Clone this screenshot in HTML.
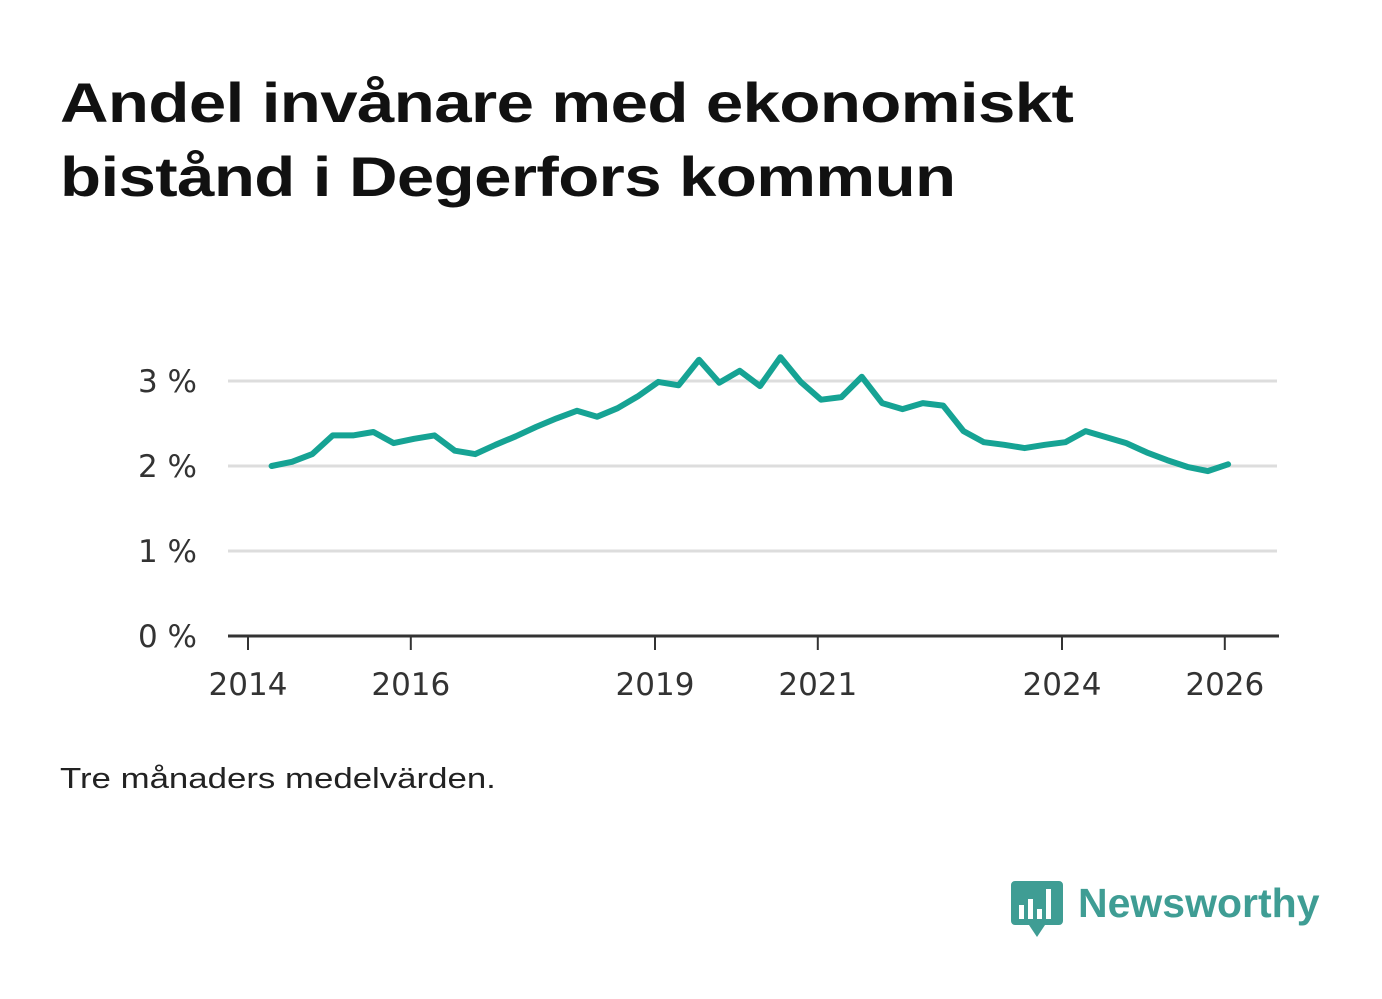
<!DOCTYPE html>
<html><head><meta charset="utf-8"><style>
body{margin:0;width:1382px;height:999px;background:#fff;font-family:"Liberation Sans","DejaVu Sans",sans-serif;overflow:hidden;position:relative}
h1{position:absolute;left:60px;top:66px;margin:0;font-size:56px;line-height:74px;font-weight:bold;color:#111;letter-spacing:-0.5px;transform:scaleX(1.2);transform-origin:0 0;white-space:nowrap}
.note{position:absolute;left:60px;top:763px;font-size:29px;color:#222;transform:scaleX(1.2);transform-origin:0 0;white-space:nowrap}
svg{position:absolute;left:0;top:0}
</style></head><body>
<h1>Andel invånare med ekonomiskt<br>bistånd i Degerfors kommun</h1>
<svg id="chart" width="1382" height="999"></svg>
<div class="note">Tre månaders medelvärden.</div>
<svg width="320" height="70" style="left:1005px;top:875px">
<path d="M10 6 h44 a4 4 0 0 1 4 4 v36 a4 4 0 0 1 -4 4 h-14 l-8 12 l-8 -12 h-14 a4 4 0 0 1 -4 -4 v-36 a4 4 0 0 1 4 -4z" fill="#3f9d94"/>
<rect x="14" y="30" width="5" height="14" fill="#fff"/><rect x="23" y="24" width="5" height="20" fill="#fff"/><rect x="32" y="34" width="5" height="10" fill="#fff"/><rect x="41" y="14" width="5" height="30" fill="#fff"/>
<text x="73" y="42" font-family="Liberation Sans, sans-serif" font-size="41" font-weight="bold" fill="#3f9d94">Newsworthy</text>
</svg>
<script>
const values=[2.00,2.05,2.14,2.36,2.36,2.40,2.27,2.32,2.36,2.18,2.14,2.25,2.35,2.46,2.56,2.65,2.58,2.68,2.82,2.99,2.95,3.25,2.98,3.12,2.94,3.28,2.99,2.78,2.81,3.05,2.74,2.67,2.74,2.71,2.41,2.28,2.25,2.21,2.25,2.28,2.41,2.34,2.27,2.16,2.07,1.99,1.94,2.02];
const startYear=2014.29;
const yTicks=[0,1,2,3];
const xTicks=[2014,2016,2019,2021,2024,2026];
const svg=document.getElementById('chart');
const NS='http://www.w3.org/2000/svg';
const xS=t=>248+(t-2014)*81.4;
const yS=v=>636-v*85;
function mk(tag,attrs){const e=document.createElementNS(NS,tag);for(const k in attrs)e.setAttribute(k,attrs[k]);svg.appendChild(e);return e;}
yTicks.forEach(v=>{
  if(v>0){const g=mk('line',{x1:228,x2:1277,y1:yS(v),y2:yS(v),stroke:'#ddd','stroke-width':3});
  
  }
  const t=mk('text',{x:197,y:yS(v)+11,'text-anchor':'end','font-size':31,fill:'#333','font-family':'DejaVu Sans, sans-serif'});t.textContent=v+' %';
  
  
});
const ax=mk('line',{x1:228,x2:1279,y1:636,y2:636,stroke:'#333','stroke-width':3});


xTicks.forEach(y=>{
  const l=mk('line',{x1:xS(y),x2:xS(y),y1:636,y2:650,stroke:'#333','stroke-width':2});
  
  
  const t=mk('text',{x:xS(y),y:695,'text-anchor':'middle','font-size':31,fill:'#333','font-family':'DejaVu Sans, sans-serif'});t.textContent=y;
  
  
});
const pts=values.map((v,i)=>xS(startYear+i*0.25).toFixed(1)+','+yS(v).toFixed(1)).join(' ');
const pl=mk('polyline',{points:pts,fill:'none',stroke:'#16a394','stroke-width':6,'stroke-linejoin':'round','stroke-linecap':'round'});


</script>
</body></html>
